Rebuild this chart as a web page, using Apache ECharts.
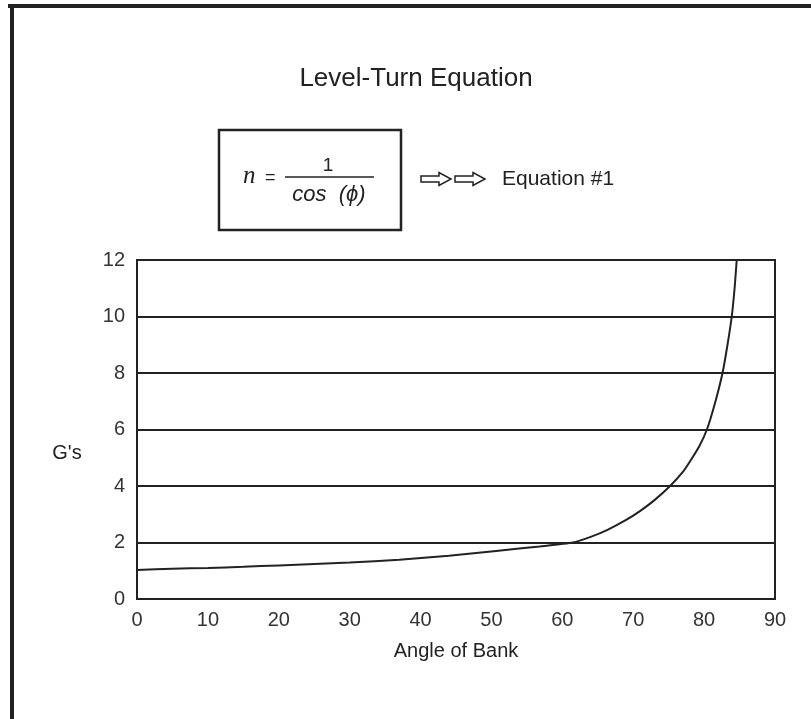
<!DOCTYPE html>
<html>
<head>
<meta charset="utf-8">
<script src="https://cdn.jsdelivr.net/npm/echarts@6/dist/echarts.min.js"></script>
<style>
html,body{margin:0;padding:0;background:#fff;}
#c{width:811px;height:719px;}
</style>
</head>
<body>
<div id="c"></div>
<script>
// Values
const angles = [0, 5, 10, 15, 20, 25, 30, 37, 44, 51, 56.8, 61.5, 64, 66.3, 69, 71, 73, 75.2, 77, 78, 79.3, 80.4, 81.5, 82.6, 83.3, 83.9, 84.3, 84.6];
const gs     = [1.03, 1.07, 1.1, 1.14, 1.19, 1.24, 1.29, 1.39, 1.53, 1.71, 1.86, 2.0, 2.2, 2.44, 2.8, 3.12, 3.5, 4.0, 4.5, 4.87, 5.4, 6.0, 6.9, 8.0, 9.0, 10.0, 11.0, 12.0];
const xTicks = [0, 10, 20, 30, 40, 50, 60, 70, 80, 90];
const yTicks = [0, 2, 4, 6, 8, 10, 12];

const FONT = '"Liberation Sans", Arial, sans-serif';
const chart = echarts.init(document.getElementById('c'), null, {renderer: 'canvas'});

const arrow = (x0) => {
  const L = 30, bh = 3, hh = 6.5, hl = 12, cy = 179;
  return [[x0, cy - bh], [x0 + L - hl, cy - bh], [x0 + L - hl, cy - hh], [x0 + L, cy],
          [x0 + L - hl, cy + hh], [x0 + L - hl, cy + bh], [x0, cy + bh]];
};

chart.setOption({
  backgroundColor: '#fff',
  animation: false,
  grid: {left: 137, top: 260, width: 638, height: 339, show: true, borderColor: '#222', borderWidth: 2},
  xAxis: {
    type: 'value', min: 0, max: 90, interval: 10,
    name: 'Angle of Bank', nameLocation: 'middle', nameGap: 42,
    nameTextStyle: {fontFamily: FONT, fontSize: 20, color: '#222'},
    axisLine: {show: true, lineStyle: {color: '#222', width: 2}},
    axisTick: {show: false},
    splitLine: {show: false},
    axisLabel: {fontFamily: FONT, fontSize: 20, color: '#333', margin: 11,
      formatter: v => xTicks.includes(v) ? String(v) : ''}
  },
  yAxis: {
    type: 'value', min: 0, max: 12, interval: 2,
    axisLine: {show: true, lineStyle: {color: '#222', width: 2}},
    axisTick: {show: false},
    splitLine: {show: true, lineStyle: {color: '#222', width: 2}},
    axisLabel: {fontFamily: FONT, fontSize: 20, color: '#333', margin: 12,
      formatter: v => yTicks.includes(v) ? String(v) : ''}
  },
  series: [{
    type: 'line',
    data: angles.map((a, i) => [a, gs[i]]),
    smooth: 0.2,
    showSymbol: false,
    lineStyle: {color: '#222', width: 2},
    z: 5
  }],
  graphic: [
    // outer frame (top and left)
    {type: 'rect', shape: {x: 8, y: 4, width: 803, height: 4}, style: {fill: '#222'}, silent: true},
    {type: 'rect', shape: {x: 10, y: 4, width: 4, height: 715}, style: {fill: '#222'}, silent: true},
    // title
    {type: 'text', style: {text: 'Level-Turn Equation', x: 416, y: 79, font: '26px ' + FONT, fill: '#222', textAlign: 'center', textVerticalAlign: 'middle'}},
    // equation box
    {type: 'rect', shape: {x: 219, y: 130, width: 182, height: 100}, style: {fill: 'none', stroke: '#222', lineWidth: 2.5}},
    {type: 'text', style: {text: 'n', x: 243, y: 176, font: 'italic 25px "Liberation Serif", "Times New Roman", serif', fill: '#222', textVerticalAlign: 'middle'}},
    {type: 'text', style: {text: '=', x: 265, y: 178, font: '18px ' + FONT, fill: '#222', textVerticalAlign: 'middle'}},
    {type: 'text', style: {text: '1', x: 328, y: 166, font: '19px ' + FONT, fill: '#222', textAlign: 'center', textVerticalAlign: 'middle'}},
    {type: 'line', shape: {x1: 285, y1: 177, x2: 374, y2: 177}, style: {stroke: '#222', lineWidth: 1.5}},
    {type: 'text', style: {text: 'cos  (\u03d5)', x: 329, y: 195, font: 'italic 22px ' + FONT, fill: '#222', textAlign: 'center', textVerticalAlign: 'middle'}},
    // arrows
    {type: 'polygon', shape: {points: arrow(421)}, style: {fill: '#fff', stroke: '#222', lineWidth: 1.5}},
    {type: 'polygon', shape: {points: arrow(455)}, style: {fill: '#fff', stroke: '#222', lineWidth: 1.5}},
    {type: 'text', style: {text: 'Equation #1', x: 502, y: 179, font: '21px ' + FONT, fill: '#222', textVerticalAlign: 'middle'}},
    // y-axis name
    {type: 'text', style: {text: "G's", x: 67, y: 453, font: '20px ' + FONT, fill: '#222', textAlign: 'center', textVerticalAlign: 'middle'}}
  ]
});
</script>
</body>
</html>
